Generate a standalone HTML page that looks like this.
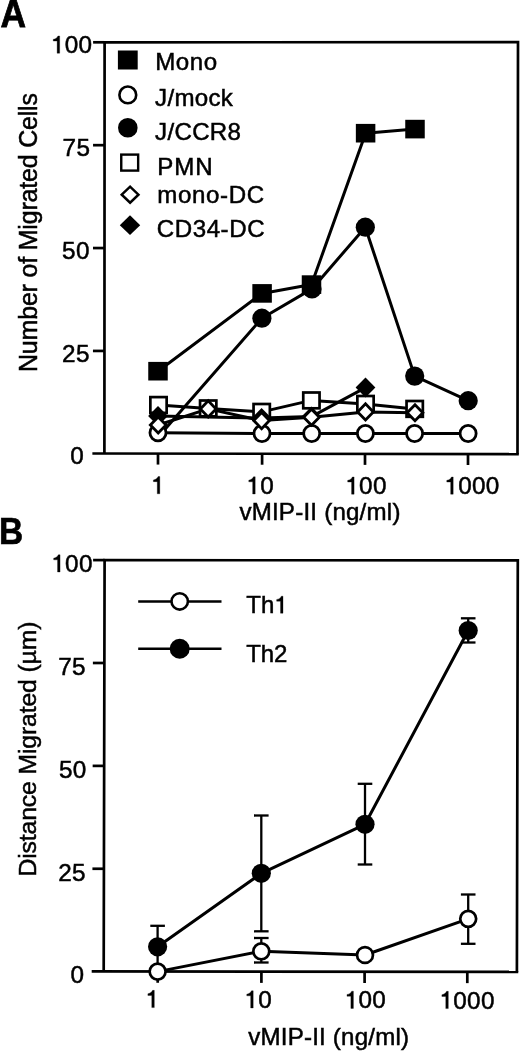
<!DOCTYPE html>
<html><head><meta charset="utf-8"><title>Figure</title>
<style>
html,body{margin:0;padding:0;background:#fff;}
body{width:520px;height:1052px;overflow:hidden;font-family:"Liberation Sans",sans-serif;}
svg{display:block;will-change:transform;}
</style></head>
<body>
<svg width="520" height="1052" viewBox="0 0 520 1052">
<rect x="0" y="0" width="520" height="1052" fill="#fff"/>
<polyline points="104.40,453.50 104.60,42.30 518.00,42.20 517.50,454.10" fill="none" stroke="#000" stroke-width="2.7" stroke-linejoin="miter"/>
<line x1="92.40" y1="453.50" x2="518.85" y2="454.10" stroke="#000" stroke-width="2.7" stroke-linecap="butt"/>
<line x1="92.95" y1="350.93" x2="104.45" y2="350.93" stroke="#000" stroke-width="2.7" stroke-linecap="butt"/>
<line x1="93.00" y1="248.05" x2="104.50" y2="248.05" stroke="#000" stroke-width="2.7" stroke-linecap="butt"/>
<line x1="93.05" y1="145.18" x2="104.55" y2="145.18" stroke="#000" stroke-width="2.7" stroke-linecap="butt"/>
<line x1="93.10" y1="42.30" x2="104.60" y2="42.30" stroke="#000" stroke-width="2.7" stroke-linecap="butt"/>
<line x1="158.00" y1="453.58" x2="158.00" y2="464.58" stroke="#000" stroke-width="2.7" stroke-linecap="butt"/>
<line x1="262.10" y1="453.73" x2="262.10" y2="464.73" stroke="#000" stroke-width="2.7" stroke-linecap="butt"/>
<line x1="365.00" y1="453.88" x2="365.00" y2="464.88" stroke="#000" stroke-width="2.7" stroke-linecap="butt"/>
<line x1="468.00" y1="454.03" x2="468.00" y2="465.03" stroke="#000" stroke-width="2.7" stroke-linecap="butt"/>
<polyline points="158.00,432.80 262.00,433.50 311.70,433.50 365.40,433.50 414.60,433.50 468.10,433.50" fill="none" stroke="#000" stroke-width="3.0" stroke-linejoin="round"/>
<polyline points="158.50,405.00 208.20,408.40 261.70,411.90 311.40,400.40 365.50,403.90 414.70,408.90" fill="none" stroke="#000" stroke-width="3.0" stroke-linejoin="round"/>
<polyline points="158.20,425.00 208.20,408.90 261.60,420.60 311.50,417.30 365.50,411.90 415.00,412.80" fill="none" stroke="#000" stroke-width="3.0" stroke-linejoin="round"/>
<polyline points="158.00,416.00 261.60,418.00 311.50,416.60 365.50,387.60" fill="none" stroke="#000" stroke-width="3.0" stroke-linejoin="round"/>
<polyline points="158.00,437.20 261.90,318.20 312.00,288.90 365.30,227.20 414.70,376.10 468.20,400.70" fill="none" stroke="#000" stroke-width="3.0" stroke-linejoin="round"/>
<polyline points="158.00,371.20 262.10,293.40 311.50,284.60 365.60,133.20 415.00,129.10" fill="none" stroke="#000" stroke-width="3.0" stroke-linejoin="round"/>
<circle cx="158.00" cy="432.80" r="8.049999999999999" fill="#fff" stroke="#000" stroke-width="2.8"/>
<circle cx="262.00" cy="433.50" r="8.049999999999999" fill="#fff" stroke="#000" stroke-width="2.8"/>
<circle cx="311.70" cy="433.50" r="8.049999999999999" fill="#fff" stroke="#000" stroke-width="2.8"/>
<circle cx="365.40" cy="433.50" r="8.049999999999999" fill="#fff" stroke="#000" stroke-width="2.8"/>
<circle cx="414.60" cy="433.50" r="8.049999999999999" fill="#fff" stroke="#000" stroke-width="2.8"/>
<circle cx="468.10" cy="433.50" r="8.049999999999999" fill="#fff" stroke="#000" stroke-width="2.8"/>
<circle cx="261.90" cy="318.20" r="9.6" fill="#000"/>
<circle cx="312.00" cy="288.90" r="9.6" fill="#000"/>
<circle cx="365.30" cy="227.20" r="9.6" fill="#000"/>
<circle cx="414.70" cy="376.10" r="9.6" fill="#000"/>
<circle cx="468.20" cy="400.70" r="9.6" fill="#000"/>
<rect x="148.25" y="361.90" width="19.5" height="18.6" fill="#000"/>
<rect x="252.35" y="284.10" width="19.5" height="18.6" fill="#000"/>
<rect x="301.75" y="275.30" width="19.5" height="18.6" fill="#000"/>
<rect x="355.85" y="123.90" width="19.5" height="18.6" fill="#000"/>
<rect x="405.25" y="119.80" width="19.5" height="18.6" fill="#000"/>
<rect x="150.35" y="397.10" width="16.3" height="15.8" fill="#fff" stroke="#000" stroke-width="2.7"/>
<rect x="200.05" y="400.50" width="16.3" height="15.8" fill="#fff" stroke="#000" stroke-width="2.7"/>
<rect x="253.55" y="404.00" width="16.3" height="15.8" fill="#fff" stroke="#000" stroke-width="2.7"/>
<rect x="303.25" y="392.50" width="16.3" height="15.8" fill="#fff" stroke="#000" stroke-width="2.7"/>
<rect x="357.35" y="396.00" width="16.3" height="15.8" fill="#fff" stroke="#000" stroke-width="2.7"/>
<rect x="406.55" y="401.00" width="16.3" height="15.8" fill="#fff" stroke="#000" stroke-width="2.7"/>
<polygon points="148.10,416.00 158.00,406.00 167.90,416.00 158.00,426.00" fill="#000"/>
<polygon points="251.70,418.00 261.60,408.00 271.50,418.00 261.60,428.00" fill="#000"/>
<polygon points="301.60,416.60 311.50,406.60 321.40,416.60 311.50,426.60" fill="#000"/>
<polygon points="355.60,387.60 365.50,377.60 375.40,387.60 365.50,397.60" fill="#000"/>
<polygon points="150.36,425.00 158.20,416.96 166.04,425.00 158.20,433.04" fill="#fff" stroke="#000" stroke-width="2.8" stroke-linejoin="miter"/>
<polygon points="200.36,408.90 208.20,400.86 216.04,408.90 208.20,416.94" fill="#fff" stroke="#000" stroke-width="2.8" stroke-linejoin="miter"/>
<polygon points="253.76,420.60 261.60,412.56 269.44,420.60 261.60,428.64" fill="#fff" stroke="#000" stroke-width="2.8" stroke-linejoin="miter"/>
<polygon points="303.66,417.30 311.50,409.26 319.34,417.30 311.50,425.34" fill="#fff" stroke="#000" stroke-width="2.8" stroke-linejoin="miter"/>
<polygon points="357.66,411.90 365.50,403.86 373.34,411.90 365.50,419.94" fill="#fff" stroke="#000" stroke-width="2.8" stroke-linejoin="miter"/>
<polygon points="407.16,412.80 415.00,404.76 422.84,412.80 415.00,420.84" fill="#fff" stroke="#000" stroke-width="2.8" stroke-linejoin="miter"/>
<rect x="117.90" y="50.50" width="19.8" height="19" fill="#000"/>
<circle cx="127.80" cy="94.90" r="8.399999999999999" fill="#fff" stroke="#000" stroke-width="2.6"/>
<circle cx="127.80" cy="127.80" r="9.8" fill="#000"/>
<rect x="121.25" y="154.60" width="16.900000000000002" height="15.999999999999998" fill="#fff" stroke="#000" stroke-width="2.4"/>
<polygon points="121.75,194.70 130.10,186.65 138.45,194.70 130.10,202.75" fill="#fff" stroke="#000" stroke-width="2.5" stroke-linejoin="miter"/>
<polygon points="119.80,225.20 130.00,215.30 140.20,225.20 130.00,235.10" fill="#000"/>
<text x="155.30" y="69.80" font-size="24.1" font-family="Liberation Sans, sans-serif" text-anchor="start" font-weight="normal" fill="#000" stroke="#000" stroke-width="0.5"  letter-spacing="0.5">Mono</text>
<text x="155.10" y="105.50" font-size="24.1" font-family="Liberation Sans, sans-serif" text-anchor="start" font-weight="normal" fill="#000" stroke="#000" stroke-width="0.5"  letter-spacing="0.3">J/mock</text>
<text x="155.10" y="139.70" font-size="24.1" font-family="Liberation Sans, sans-serif" text-anchor="start" font-weight="normal" fill="#000" stroke="#000" stroke-width="0.5"  letter-spacing="0.3">J/CCR8</text>
<text x="157.30" y="174.80" font-size="24.1" font-family="Liberation Sans, sans-serif" text-anchor="start" font-weight="normal" fill="#000" stroke="#000" stroke-width="0.5"  letter-spacing="0.85">PMN</text>
<text x="157.20" y="202.80" font-size="24.1" font-family="Liberation Sans, sans-serif" text-anchor="start" font-weight="normal" fill="#000" stroke="#000" stroke-width="0.5"  letter-spacing="0.66">mono-DC</text>
<text x="156.70" y="236.50" font-size="24.1" font-family="Liberation Sans, sans-serif" text-anchor="start" font-weight="normal" fill="#000" stroke="#000" stroke-width="0.5"  letter-spacing="0.58">CD34-DC</text>
<path d="M57.14,53.20 L57.14,41.05 L53.25,41.05 L53.25,39.35 Q56.82,38.98 57.96,35.97 L59.66,35.97 L59.66,53.20 Z" fill="#000" stroke="#000" stroke-width="0.3"/>
<text x="64.68" y="53.20" font-size="24.3" font-family="Liberation Sans, sans-serif" fill="#000" stroke="#000" stroke-width="0.5">0</text>
<text x="78.49" y="53.20" font-size="24.3" font-family="Liberation Sans, sans-serif" fill="#000" stroke="#000" stroke-width="0.5">0</text>
<text x="62.58" y="156.00" font-size="24.3" font-family="Liberation Sans, sans-serif" fill="#000" stroke="#000" stroke-width="0.5">7</text>
<text x="76.39" y="156.00" font-size="24.3" font-family="Liberation Sans, sans-serif" fill="#000" stroke="#000" stroke-width="0.5">5</text>
<text x="62.08" y="258.80" font-size="24.3" font-family="Liberation Sans, sans-serif" fill="#000" stroke="#000" stroke-width="0.5">5</text>
<text x="75.89" y="258.80" font-size="24.3" font-family="Liberation Sans, sans-serif" fill="#000" stroke="#000" stroke-width="0.5">0</text>
<text x="62.08" y="361.70" font-size="24.3" font-family="Liberation Sans, sans-serif" fill="#000" stroke="#000" stroke-width="0.5">2</text>
<text x="75.89" y="361.70" font-size="24.3" font-family="Liberation Sans, sans-serif" fill="#000" stroke="#000" stroke-width="0.5">5</text>
<text x="70.19" y="464.30" font-size="24.3" font-family="Liberation Sans, sans-serif" fill="#000" stroke="#000" stroke-width="0.5">0</text>
<path d="M157.27,493.80 L157.27,481.65 L153.38,481.65 L153.38,479.95 Q156.95,479.58 158.10,476.57 L159.80,476.57 L159.80,493.80 Z" fill="#000" stroke="#000" stroke-width="0.3"/>
<path d="M252.67,494.00 L252.67,481.85 L248.78,481.85 L248.78,480.15 Q252.35,479.78 253.50,476.77 L255.20,476.77 L255.20,494.00 Z" fill="#000" stroke="#000" stroke-width="0.3"/>
<text x="260.21" y="494.00" font-size="24.3" font-family="Liberation Sans, sans-serif" fill="#000" stroke="#000" stroke-width="0.5">0</text>
<path d="M351.57,494.20 L351.57,482.05 L347.68,482.05 L347.68,480.35 Q351.25,479.98 352.40,476.97 L354.10,476.97 L354.10,494.20 Z" fill="#000" stroke="#000" stroke-width="0.3"/>
<text x="359.11" y="494.20" font-size="24.3" font-family="Liberation Sans, sans-serif" fill="#000" stroke="#000" stroke-width="0.5">0</text>
<text x="372.92" y="494.20" font-size="24.3" font-family="Liberation Sans, sans-serif" fill="#000" stroke="#000" stroke-width="0.5">0</text>
<path d="M450.67,494.20 L450.67,482.05 L446.78,482.05 L446.78,480.35 Q450.35,479.98 451.50,476.97 L453.20,476.97 L453.20,494.20 Z" fill="#000" stroke="#000" stroke-width="0.3"/>
<text x="458.21" y="494.20" font-size="24.3" font-family="Liberation Sans, sans-serif" fill="#000" stroke="#000" stroke-width="0.5">0</text>
<text x="472.02" y="494.20" font-size="24.3" font-family="Liberation Sans, sans-serif" fill="#000" stroke="#000" stroke-width="0.5">0</text>
<text x="485.83" y="494.20" font-size="24.3" font-family="Liberation Sans, sans-serif" fill="#000" stroke="#000" stroke-width="0.5">0</text>
<text x="239.40" y="520.30" font-size="24.1" font-family="Liberation Sans, sans-serif" text-anchor="start" font-weight="normal" fill="#000" stroke="#000" stroke-width="0.5"  letter-spacing="0.22">vMIP-II (ng/ml)</text>
<text transform="translate(36.8,372.0) rotate(-90)" font-size="25" font-family="Liberation Sans, sans-serif" text-anchor="start" textLength="279" lengthAdjust="spacing" fill="#000" stroke="#000" stroke-width="0.5">Number of Migrated Cells</text>
<text transform="translate(0.5,26.6) scale(1,1.09)" font-size="35.4" font-family="Liberation Sans, sans-serif" font-weight="bold" fill="#000" stroke="#000" stroke-width="0.7">A</text>
<polyline points="103.70,971.40 104.60,560.10 517.80,560.45 516.90,971.90" fill="none" stroke="#000" stroke-width="2.7" stroke-linejoin="miter"/>
<line x1="91.70" y1="971.40" x2="518.25" y2="971.90" stroke="#000" stroke-width="2.7" stroke-linecap="butt"/>
<line x1="92.42" y1="868.76" x2="103.92" y2="868.76" stroke="#000" stroke-width="2.7" stroke-linecap="butt"/>
<line x1="92.65" y1="765.88" x2="104.15" y2="765.88" stroke="#000" stroke-width="2.7" stroke-linecap="butt"/>
<line x1="92.88" y1="662.99" x2="104.38" y2="662.99" stroke="#000" stroke-width="2.7" stroke-linecap="butt"/>
<line x1="93.10" y1="560.10" x2="104.60" y2="560.10" stroke="#000" stroke-width="2.7" stroke-linecap="butt"/>
<line x1="157.70" y1="971.47" x2="157.70" y2="982.77" stroke="#000" stroke-width="2.7" stroke-linecap="butt"/>
<line x1="261.40" y1="971.59" x2="261.40" y2="982.89" stroke="#000" stroke-width="2.7" stroke-linecap="butt"/>
<line x1="364.60" y1="971.72" x2="364.60" y2="983.02" stroke="#000" stroke-width="2.7" stroke-linecap="butt"/>
<line x1="467.30" y1="971.84" x2="467.30" y2="983.14" stroke="#000" stroke-width="2.7" stroke-linecap="butt"/>
<polyline points="157.60,946.80 261.30,873.30 365.00,824.30 468.20,630.50" fill="none" stroke="#000" stroke-width="3.0" stroke-linejoin="round"/>
<polyline points="157.60,971.60 261.30,951.30 365.00,955.00 468.20,918.80" fill="none" stroke="#000" stroke-width="3.0" stroke-linejoin="round"/>
<line x1="157.60" y1="925.80" x2="157.60" y2="967.00" stroke="#000" stroke-width="2.3" stroke-linecap="butt"/>
<line x1="150.30" y1="925.80" x2="164.90" y2="925.80" stroke="#000" stroke-width="2.3" stroke-linecap="butt"/>
<line x1="150.30" y1="967.00" x2="164.90" y2="967.00" stroke="#000" stroke-width="2.3" stroke-linecap="butt"/>
<line x1="261.30" y1="815.50" x2="261.30" y2="931.30" stroke="#000" stroke-width="2.3" stroke-linecap="butt"/>
<line x1="254.00" y1="815.50" x2="268.60" y2="815.50" stroke="#000" stroke-width="2.3" stroke-linecap="butt"/>
<line x1="254.00" y1="931.30" x2="268.60" y2="931.30" stroke="#000" stroke-width="2.3" stroke-linecap="butt"/>
<line x1="365.00" y1="783.80" x2="365.00" y2="864.50" stroke="#000" stroke-width="2.3" stroke-linecap="butt"/>
<line x1="357.70" y1="783.80" x2="372.30" y2="783.80" stroke="#000" stroke-width="2.3" stroke-linecap="butt"/>
<line x1="357.70" y1="864.50" x2="372.30" y2="864.50" stroke="#000" stroke-width="2.3" stroke-linecap="butt"/>
<line x1="468.20" y1="618.30" x2="468.20" y2="642.50" stroke="#000" stroke-width="2.3" stroke-linecap="butt"/>
<line x1="460.90" y1="618.30" x2="475.50" y2="618.30" stroke="#000" stroke-width="2.3" stroke-linecap="butt"/>
<line x1="460.90" y1="642.50" x2="475.50" y2="642.50" stroke="#000" stroke-width="2.3" stroke-linecap="butt"/>
<circle cx="157.60" cy="946.80" r="9.6" fill="#000"/>
<circle cx="261.30" cy="873.30" r="9.6" fill="#000"/>
<circle cx="365.00" cy="824.30" r="9.6" fill="#000"/>
<circle cx="468.20" cy="630.50" r="9.6" fill="#000"/>
<line x1="261.30" y1="938.00" x2="261.30" y2="962.50" stroke="#000" stroke-width="2.3" stroke-linecap="butt"/>
<line x1="254.00" y1="938.00" x2="268.60" y2="938.00" stroke="#000" stroke-width="2.3" stroke-linecap="butt"/>
<line x1="254.00" y1="962.50" x2="268.60" y2="962.50" stroke="#000" stroke-width="2.3" stroke-linecap="butt"/>
<line x1="468.20" y1="894.50" x2="468.20" y2="943.80" stroke="#000" stroke-width="2.3" stroke-linecap="butt"/>
<line x1="460.90" y1="894.50" x2="475.50" y2="894.50" stroke="#000" stroke-width="2.3" stroke-linecap="butt"/>
<line x1="460.90" y1="943.80" x2="475.50" y2="943.80" stroke="#000" stroke-width="2.3" stroke-linecap="butt"/>
<circle cx="157.60" cy="971.60" r="7.950000000000001" fill="#fff" stroke="#000" stroke-width="2.7"/>
<circle cx="261.30" cy="951.30" r="7.950000000000001" fill="#fff" stroke="#000" stroke-width="2.7"/>
<circle cx="365.00" cy="955.00" r="7.950000000000001" fill="#fff" stroke="#000" stroke-width="2.7"/>
<circle cx="468.20" cy="918.80" r="7.950000000000001" fill="#fff" stroke="#000" stroke-width="2.7"/>
<line x1="138.20" y1="601.40" x2="221.50" y2="601.40" stroke="#000" stroke-width="2.5" stroke-linecap="butt"/>
<circle cx="179.70" cy="601.40" r="8.2" fill="#fff" stroke="#000" stroke-width="2.6"/>
<line x1="138.20" y1="648.80" x2="221.50" y2="648.80" stroke="#000" stroke-width="2.5" stroke-linecap="butt"/>
<circle cx="179.70" cy="648.80" r="10" fill="#000"/>
<text x="246.30" y="613.20" font-size="24" font-family="Liberation Sans, sans-serif" text-anchor="start" font-weight="normal" fill="#000" stroke="#000" stroke-width="0.5" >Th</text>
<path d="M280.50,613.20 L280.50,601.20 L276.66,601.20 L276.66,599.52 Q280.19,599.16 281.32,596.18 L283.00,596.18 L283.00,613.20 Z" fill="#000" stroke="#000" stroke-width="0.3"/>
<text x="246.30" y="661.90" font-size="24" font-family="Liberation Sans, sans-serif" text-anchor="start" font-weight="normal" fill="#000" stroke="#000" stroke-width="0.5"  letter-spacing="-0.1">Th2</text>
<path d="M57.54,572.00 L57.54,559.85 L53.65,559.85 L53.65,558.15 Q57.22,557.78 58.36,554.77 L60.06,554.77 L60.06,572.00 Z" fill="#000" stroke="#000" stroke-width="0.3"/>
<text x="65.08" y="572.00" font-size="24.3" font-family="Liberation Sans, sans-serif" fill="#000" stroke="#000" stroke-width="0.5">0</text>
<text x="78.89" y="572.00" font-size="24.3" font-family="Liberation Sans, sans-serif" fill="#000" stroke="#000" stroke-width="0.5">0</text>
<text x="58.28" y="674.60" font-size="24.3" font-family="Liberation Sans, sans-serif" fill="#000" stroke="#000" stroke-width="0.5">7</text>
<text x="72.09" y="674.60" font-size="24.3" font-family="Liberation Sans, sans-serif" fill="#000" stroke="#000" stroke-width="0.5">5</text>
<text x="58.88" y="778.10" font-size="24.3" font-family="Liberation Sans, sans-serif" fill="#000" stroke="#000" stroke-width="0.5">5</text>
<text x="72.69" y="778.10" font-size="24.3" font-family="Liberation Sans, sans-serif" fill="#000" stroke="#000" stroke-width="0.5">0</text>
<text x="58.18" y="880.50" font-size="24.3" font-family="Liberation Sans, sans-serif" fill="#000" stroke="#000" stroke-width="0.5">2</text>
<text x="71.99" y="880.50" font-size="24.3" font-family="Liberation Sans, sans-serif" fill="#000" stroke="#000" stroke-width="0.5">5</text>
<text x="70.59" y="983.40" font-size="24.3" font-family="Liberation Sans, sans-serif" fill="#000" stroke="#000" stroke-width="0.5">0</text>
<path d="M151.77,1007.60 L151.77,995.45 L147.88,995.45 L147.88,993.75 Q151.45,993.38 152.60,990.37 L154.30,990.37 L154.30,1007.60 Z" fill="#000" stroke="#000" stroke-width="0.3"/>
<path d="M250.67,1008.00 L250.67,995.85 L246.78,995.85 L246.78,994.15 Q250.35,993.78 251.50,990.77 L253.20,990.77 L253.20,1008.00 Z" fill="#000" stroke="#000" stroke-width="0.3"/>
<text x="258.21" y="1008.00" font-size="24.3" font-family="Liberation Sans, sans-serif" fill="#000" stroke="#000" stroke-width="0.5">0</text>
<path d="M350.87,1008.40 L350.87,996.25 L346.98,996.25 L346.98,994.55 Q350.55,994.18 351.70,991.17 L353.40,991.17 L353.40,1008.40 Z" fill="#000" stroke="#000" stroke-width="0.3"/>
<text x="358.41" y="1008.40" font-size="24.3" font-family="Liberation Sans, sans-serif" fill="#000" stroke="#000" stroke-width="0.5">0</text>
<text x="372.22" y="1008.40" font-size="24.3" font-family="Liberation Sans, sans-serif" fill="#000" stroke="#000" stroke-width="0.5">0</text>
<path d="M445.77,1008.60 L445.77,996.45 L441.88,996.45 L441.88,994.75 Q445.45,994.38 446.60,991.37 L448.30,991.37 L448.30,1008.60 Z" fill="#000" stroke="#000" stroke-width="0.3"/>
<text x="453.31" y="1008.60" font-size="24.3" font-family="Liberation Sans, sans-serif" fill="#000" stroke="#000" stroke-width="0.5">0</text>
<text x="467.12" y="1008.60" font-size="24.3" font-family="Liberation Sans, sans-serif" fill="#000" stroke="#000" stroke-width="0.5">0</text>
<text x="480.93" y="1008.60" font-size="24.3" font-family="Liberation Sans, sans-serif" fill="#000" stroke="#000" stroke-width="0.5">0</text>
<text x="248.20" y="1045.00" font-size="24.1" font-family="Liberation Sans, sans-serif" text-anchor="start" font-weight="normal" fill="#000" stroke="#000" stroke-width="0.5"  letter-spacing="0.21">vMIP-II (ng/ml)</text>
<text transform="translate(36.0,876.5) rotate(-90)" font-size="24.8" font-family="Liberation Sans, sans-serif" text-anchor="start" textLength="255" lengthAdjust="spacing" fill="#000" stroke="#000" stroke-width="0.5">Distance Migrated (µm)</text>
<text transform="translate(-1.0,544.2) scale(1,1.10)" font-size="33.5" font-family="Liberation Sans, sans-serif" font-weight="bold" fill="#000" stroke="#000" stroke-width="0.6">B</text>
</svg>
</body></html>
